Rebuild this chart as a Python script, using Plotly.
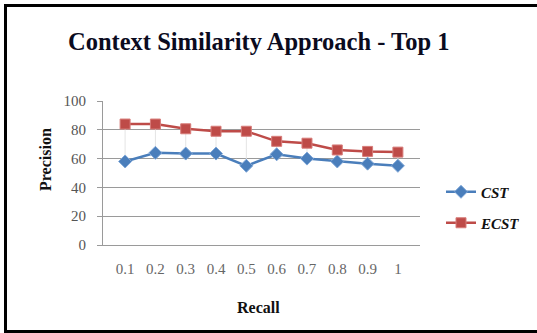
import plotly.graph_objects as go

recall = ["0.1", "0.2", "0.3", "0.4", "0.5", "0.6", "0.7", "0.8", "0.9", "1"]
cst = [58, 64, 63.5, 63.5, 55, 63, 60, 58, 56.5, 55]
ecst = [84, 84, 80.7, 79, 79, 72, 70.7, 66, 65, 64.5]
y_ticks = [0, 20, 40, 60, 80, 100]

L, R, T, B = 103, 420, 101, 245
W, H = 537, 333
pw, ph = R - L, B - T
def px(x): return (x - L) / pw
def py(y): return (B - y) / ph

serif = "Liberation Serif, Times New Roman, serif"

fig = go.Figure()

# faint drop lines between the two series
dx, dy = [], []
for c, a, b in zip(recall, cst, ecst):
    dx += [c, c, None]
    dy += [a, b, None]
fig.add_trace(go.Scatter(x=dx, y=dy, mode="lines", line=dict(color="#e4e4e4", width=1),
                         showlegend=False, hoverinfo="skip"))

fig.add_trace(go.Scatter(x=recall, y=cst, name="CST", mode="lines+markers",
                         line=dict(color="#4a7ebb", width=2.5),
                         marker=dict(symbol="diamond", size=10, color="#4a7ebb",
                                     line=dict(color="#7fa7d8", width=1)),
                         legend="legend"))
fig.add_trace(go.Scatter(x=recall, y=ecst, name="ECST", mode="lines+markers",
                         line=dict(color="#be4b48", width=2.5),
                         marker=dict(symbol="square", size=10, color="#be4b48",
                                     line=dict(color="#d77c79", width=1)),
                         legend="legend2"))

frame = dict(color="black", width=3)
fig.update_layout(
    width=W, height=H,
    margin=dict(l=L, r=W - R, t=T, b=H - B, autoexpand=False),
    paper_bgcolor="white", plot_bgcolor="white",
    font=dict(family=serif, color="#555555", size=13),
    xaxis=dict(type="category", showgrid=False, showline=True, linecolor="#9a9a9a",
               linewidth=1, ticks="", tickfont=dict(size=15, color="#666666"),
               ticklabelstandoff=10, fixedrange=True),
    yaxis=dict(range=[0, 100], tickvals=y_ticks, showgrid=True, gridcolor="#9a9a9a",
               gridwidth=1, showline=True, linecolor="#9a9a9a", linewidth=1,
               ticks="outside", ticklen=5, tickcolor="#9a9a9a", zeroline=False,
               tickfont=dict(size=15, color="#555555"), ticklabelstandoff=8, fixedrange=True),
    legend=dict(x=px(441), y=py(192), xanchor="left", yanchor="middle",
                font=dict(family=serif, size=15, color="#111111", style="italic", weight="bold"),
                bgcolor="rgba(0,0,0,0)", itemwidth=30),
    legend2=dict(x=px(441), y=py(223), xanchor="left", yanchor="middle",
                 font=dict(family=serif, size=15, color="#111111", style="italic", weight="bold"),
                 bgcolor="rgba(0,0,0,0)", itemwidth=30),
    annotations=[
        dict(text="<b>Context Similarity Approach - Top 1</b>", x=px(258), y=py(42),
             xref="paper", yref="paper", showarrow=False, xanchor="center", yanchor="middle",
             font=dict(family=serif, size=24.5, color="#0b0b1e")),
        dict(text="<b>Recall</b>", x=px(258), y=py(307), xref="paper", yref="paper",
             showarrow=False, xanchor="center", yanchor="middle",
             font=dict(family=serif, size=16, color="#111111")),
        dict(text="<b>Precision</b>", x=px(45), y=py(160), xref="paper", yref="paper",
             showarrow=False, textangle=-90, xanchor="center", yanchor="middle",
             font=dict(family=serif, size=16, color="#111111")),
    ],
    shapes=[
        dict(type="line", xref="paper", yref="paper", x0=px(5.5), x1=px(5.5),
             y0=py(331.5), y1=py(5.5), line=frame),
        dict(type="line", xref="paper", yref="paper", x0=px(4), x1=px(W + 40),
             y0=py(5.5), y1=py(5.5), line=frame),
        dict(type="line", xref="paper", yref="paper", x0=px(4), x1=px(W + 40),
             y0=py(331.5), y1=py(331.5), line=frame),
    ],
)

fig.write_html("out.html", config={"displayModeBar": False},
               post_script="document.body.style.margin='0';document.body.style.overflow='hidden';")
